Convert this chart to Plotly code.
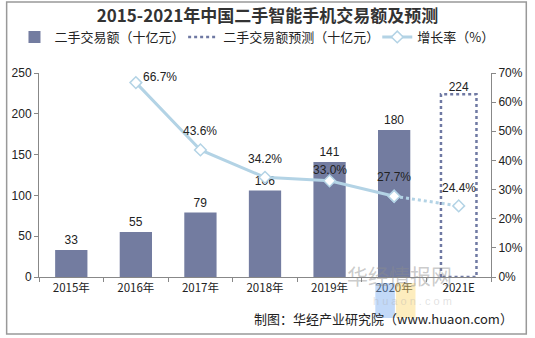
import plotly.graph_objects as go

years = ["2015年", "2016年", "2017年", "2018年", "2019年", "2020年", "2021E"]
actual_idx = [0, 1, 2, 3, 4, 5]
actual_vals = [33, 55, 79, 106, 141, 180]
forecast_idx = [6]
forecast_vals = [224]
growth_idx = [1, 2, 3, 4, 5, 6]
growth_vals = [0.667, 0.436, 0.342, 0.330, 0.277, 0.244]

CJK = "Noto Sans CJK SC"
NUM = "Liberation Sans, Arial, sans-serif"
bar_color = "#737ca0"
line_color = "#b3d3e5"
bw = 0.5

fig = go.Figure()

fig.add_trace(go.Bar(
    x=actual_idx, y=actual_vals, width=bw, name="二手交易额（十亿元）", legend="legend",
    marker=dict(color=bar_color, line=dict(width=0)),
    text=[str(v) for v in actual_vals], textposition="outside",
    textfont=dict(family=NUM, size=12, color="#222"), cliponaxis=False,
))

# forecast bar outline (dotted rectangle), built from the data
fw = bw * 1.1 / 2
for i, v in zip(forecast_idx, forecast_vals):
    fig.add_trace(go.Scatter(
        x=[i - fw, i - fw, i + fw, i + fw, i - fw],
        y=[0, v, v, 0, 0], mode="lines", name="二手交易额预测（十亿元）", legend="legend2",
        line=dict(color="#6f79a3", width=2.5, dash="dot"), hoverinfo="skip",
    ))
    fig.add_trace(go.Scatter(
        x=[i], y=[v], mode="text", text=[str(v)], textposition="top center",
        textfont=dict(family=NUM, size=12, color="#222"), showlegend=False, cliponaxis=False,
    ))

fig.add_trace(go.Scatter(
    x=growth_idx[:-1], y=growth_vals[:-1], yaxis="y2", mode="lines+markers", name="增长率（%）",
    legend="legend3",
    line=dict(color=line_color, width=3),
    marker=dict(symbol="diamond", size=9, color="white", line=dict(color=line_color, width=1.5)),
    cliponaxis=False,
))
fig.add_trace(go.Scatter(
    x=growth_idx[-2:], y=growth_vals[-2:], yaxis="y2", mode="lines+markers", showlegend=False,
    line=dict(color=line_color, width=3, dash="dot"),
    marker=dict(symbol="diamond", size=9, color="white", line=dict(color=line_color, width=1.5)),
    cliponaxis=False,
))

# percentage labels (offsets in pixels)
x_shifts = [24, 0, 0, 0, 0, 0]
y_shifts = [6, 19, 18, 11, 19, 18]
for xi, yv, xs, ys in zip(growth_idx, growth_vals, x_shifts, y_shifts):
    fig.add_annotation(x=xi, y=yv, yref="y2", text=f"{yv*100:.1f}%", showarrow=False,
                       xshift=xs, yshift=ys, font=dict(family=NUM, size=12, color="#222"))

axis_col = "#888"
legfont = dict(family=CJK, size=13, color="#222")
ly = (277 - 37) / 204


def leg(px):
    return dict(orientation="h", x=(px - 35) / 461, xanchor="left", y=ly, yanchor="middle",
                font=legfont, bgcolor="rgba(0,0,0,0)", borderwidth=0, itemwidth=30)


fig.update_layout(
    width=535, height=338,
    margin=dict(l=35, r=39, t=73, b=61),
    paper_bgcolor="white", plot_bgcolor="white",
    title=dict(text="<b>2015-2021年中国二手智能手机交易额及预测</b>", x=0.5, xanchor="center",
               y=1 - 16 / 338, yanchor="middle", font=dict(family=CJK, size=17, color="#333")),
    legend=leg(10), legend2=leg(182), legend3=leg(380),
    xaxis=dict(range=[-0.5, 6.5], tickvals=list(range(len(years))), ticktext=years,
               showgrid=False, zeroline=False, showline=True, linecolor=axis_col, linewidth=1,
               ticks="", tickfont=dict(family=CJK, size=11.5, color="#222"),
               minor=dict(tick0=0.5, dtick=1, ticks="outside", ticklen=4, tickcolor=axis_col)),
    yaxis=dict(range=[0, 250], dtick=50, showgrid=False, zeroline=False, showline=True,
               linecolor=axis_col, ticks="outside", ticklen=4, tickcolor=axis_col,
               tickfont=dict(family=NUM, size=12, color="#222")),
    yaxis2=dict(range=[0, 0.7], dtick=0.1, tickformat=".0%", overlaying="y", side="right",
                showgrid=False, zeroline=False, showline=True, linecolor=axis_col,
                ticks="outside", ticklen=4, tickcolor=axis_col,
                tickfont=dict(family=NUM, size=12, color="#222")),
)

# outer border
fig.add_shape(type="rect", xref="paper", yref="paper",
              x0=(2 - 35) / 461, x1=(532 - 35) / 461, y0=(277 - 334) / 204, y1=(277 - 2) / 204,
              line=dict(color="#999", width=1.5), fillcolor="rgba(0,0,0,0)", layer="below")

# watermark logo + text
def px_x(p):
    return (p - 35) / 461


def px_y(p):
    return (277 - p) / 204


fig.add_shape(type="rect", xref="paper", yref="paper", x0=px_x(378), x1=px_x(398),
              y0=px_y(318), y1=px_y(283), line=dict(width=0), fillcolor="rgba(120,170,240,0.45)")
fig.add_shape(type="rect", xref="paper", yref="paper", x0=px_x(399), x1=px_x(419),
              y0=px_y(318), y1=px_y(283), line=dict(width=0), fillcolor="rgba(250,215,110,0.45)")
fig.add_annotation(text="华经情报网", xref="paper", yref="paper", x=px_x(458),
                   y=px_y(292), showarrow=False,
                   font=dict(family=CJK, size=21, color="rgba(140,140,140,0.45)"))
fig.add_annotation(text="h u a o n . c o m", xref="paper", yref="paper", x=px_x(458),
                   y=px_y(309), showarrow=False,
                   font=dict(family=NUM, size=11, color="rgba(170,170,170,0.35)"))

fig.add_annotation(text="制图：华经产业研究院（www.huaon.com）", xref="paper", yref="paper",
                   x=px_x(520), xanchor="right", y=px_y(318), yanchor="middle",
                   showarrow=False, font=dict(family=CJK, size=13, color="#222"))

fig.write_html("out.html")
